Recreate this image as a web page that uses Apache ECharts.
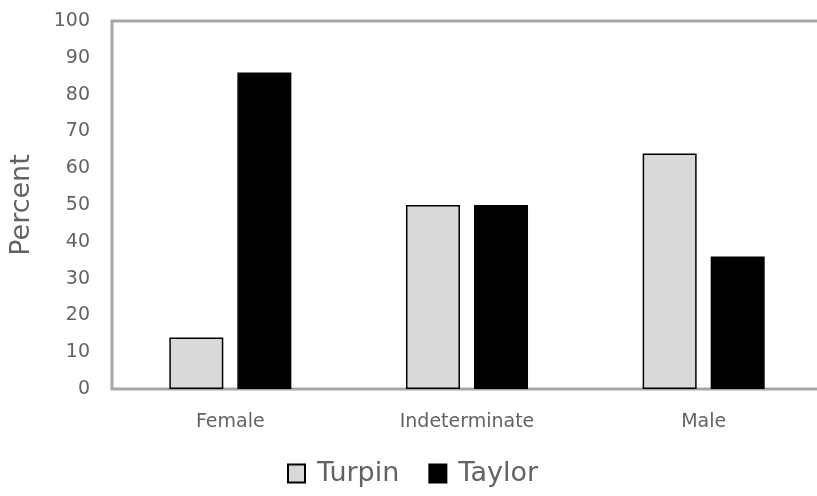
<!DOCTYPE html>
<html><head><meta charset="utf-8">
<script src="https://cdn.jsdelivr.net/npm/echarts@6/dist/echarts.min.js"></script>
<style>html,body{margin:0;padding:0;background:#fff;overflow:hidden}#c{width:840px;height:496px}</style>
</head><body><div id="c"></div>
<script>
const categories = ['Female', 'Indeterminate', 'Male'];
const turpin = [14, 50, 64];
const taylor = [86, 50, 36];
const yTicks = [0, 100, 10];

const FONT = 'DejaVu Sans';
const TXT = '#636363';
const chart = echarts.init(document.getElementById('c'));
chart.setOption({
  animation: false,
  textStyle: { fontFamily: FONT },
  grid: { left: 109, top: 21, width: 713, bottom: 107, show: true, borderColor: '#a6a6a6', borderWidth: 3, backgroundColor: 'transparent' },
  legend: {
    top: 460, left: 287, padding: 0, itemWidth: 17, itemHeight: 18, itemGap: 29, icon: 'rect',
    textStyle: { fontSize: 27, color: TXT, fontFamily: FONT, padding: [0, 0, 0, 7] },
    data: ['Turpin', 'Taylor']
  },
  xAxis: {
    type: 'category', data: categories,
    axisLine: { lineStyle: { color: '#a6a6a6', width: 2 } },
    axisTick: { show: false },
    axisLabel: { color: TXT, fontSize: 19, margin: 24 }
  },
  yAxis: {
    type: 'value', min: yTicks[0], max: yTicks[1], interval: yTicks[2],
    name: 'Percent', nameLocation: 'middle', nameGap: 77,
    nameTextStyle: { fontSize: 27, color: TXT },
    axisLine: { show: false }, axisTick: { show: false },
    splitLine: { show: false },
    axisLabel: { color: TXT, fontSize: 19, margin: 22 }
  },
  series: [
    { name: 'Turpin', type: 'bar', data: turpin, barWidth: 54, barGap: '26%',
      itemStyle: { color: '#d9d9d9', borderColor: '#000', borderWidth: 1.5 } },
    { name: 'Taylor', type: 'bar', data: taylor, barWidth: 54,
      itemStyle: { color: '#000', borderColor: '#000', borderWidth: 1.5 } }
  ]
});
</script></body></html>
